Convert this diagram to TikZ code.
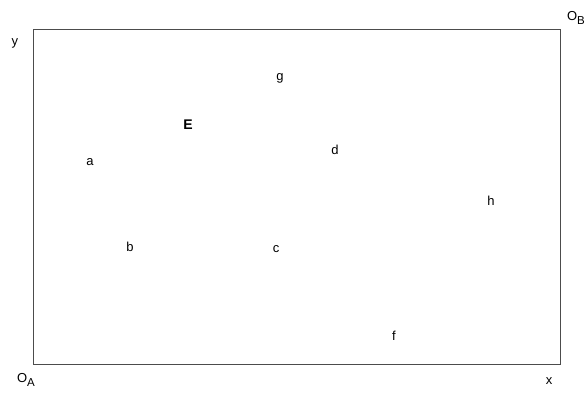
\documentclass[tikz,border=0pt]{standalone}
\usepackage{fontspec}
\setmainfont{Liberation Sans}
\newcommand{\mysub}[1]{\raisebox{-0.35em}{\fontsize{11.5}{12}\selectfont #1}}
\begin{document}
\begin{tikzpicture}[x=1pt,y=-1pt,
  lbl/.style={inner sep=0pt,font=\fontsize{13}{15}\selectfont},
  frame/.style={draw=black!70,line width=0.8pt}]
\useasboundingbox (0,0) rectangle (588,392);
\node[frame,minimum width=527pt,minimum height=335pt,inner sep=0pt,anchor=north west] (box) at (33,29) {};
\node[lbl] (y) at (15,43) {y};
\node[lbl] (OB) at (576,18) {O\mysub{B}};
\node[lbl] (OA) at (26,380) {O\mysub{A}};
\node[lbl] (x) at (549,381) {x};
\node[lbl,font=\fontsize{14}{16}\selectfont\bfseries] (E) at (188,125) {E};
\node[lbl] (g) at (280,78) {g};
\node[lbl] (a) at (90,162) {a};
\node[lbl] (d) at (335,150) {d};
\node[lbl] (h) at (491,201) {h};
\node[lbl] (b) at (130,247) {b};
\node[lbl] (c) at (276,249) {c};
\node[lbl] (f) at (394,336) {f};
\end{tikzpicture}
\end{document}
